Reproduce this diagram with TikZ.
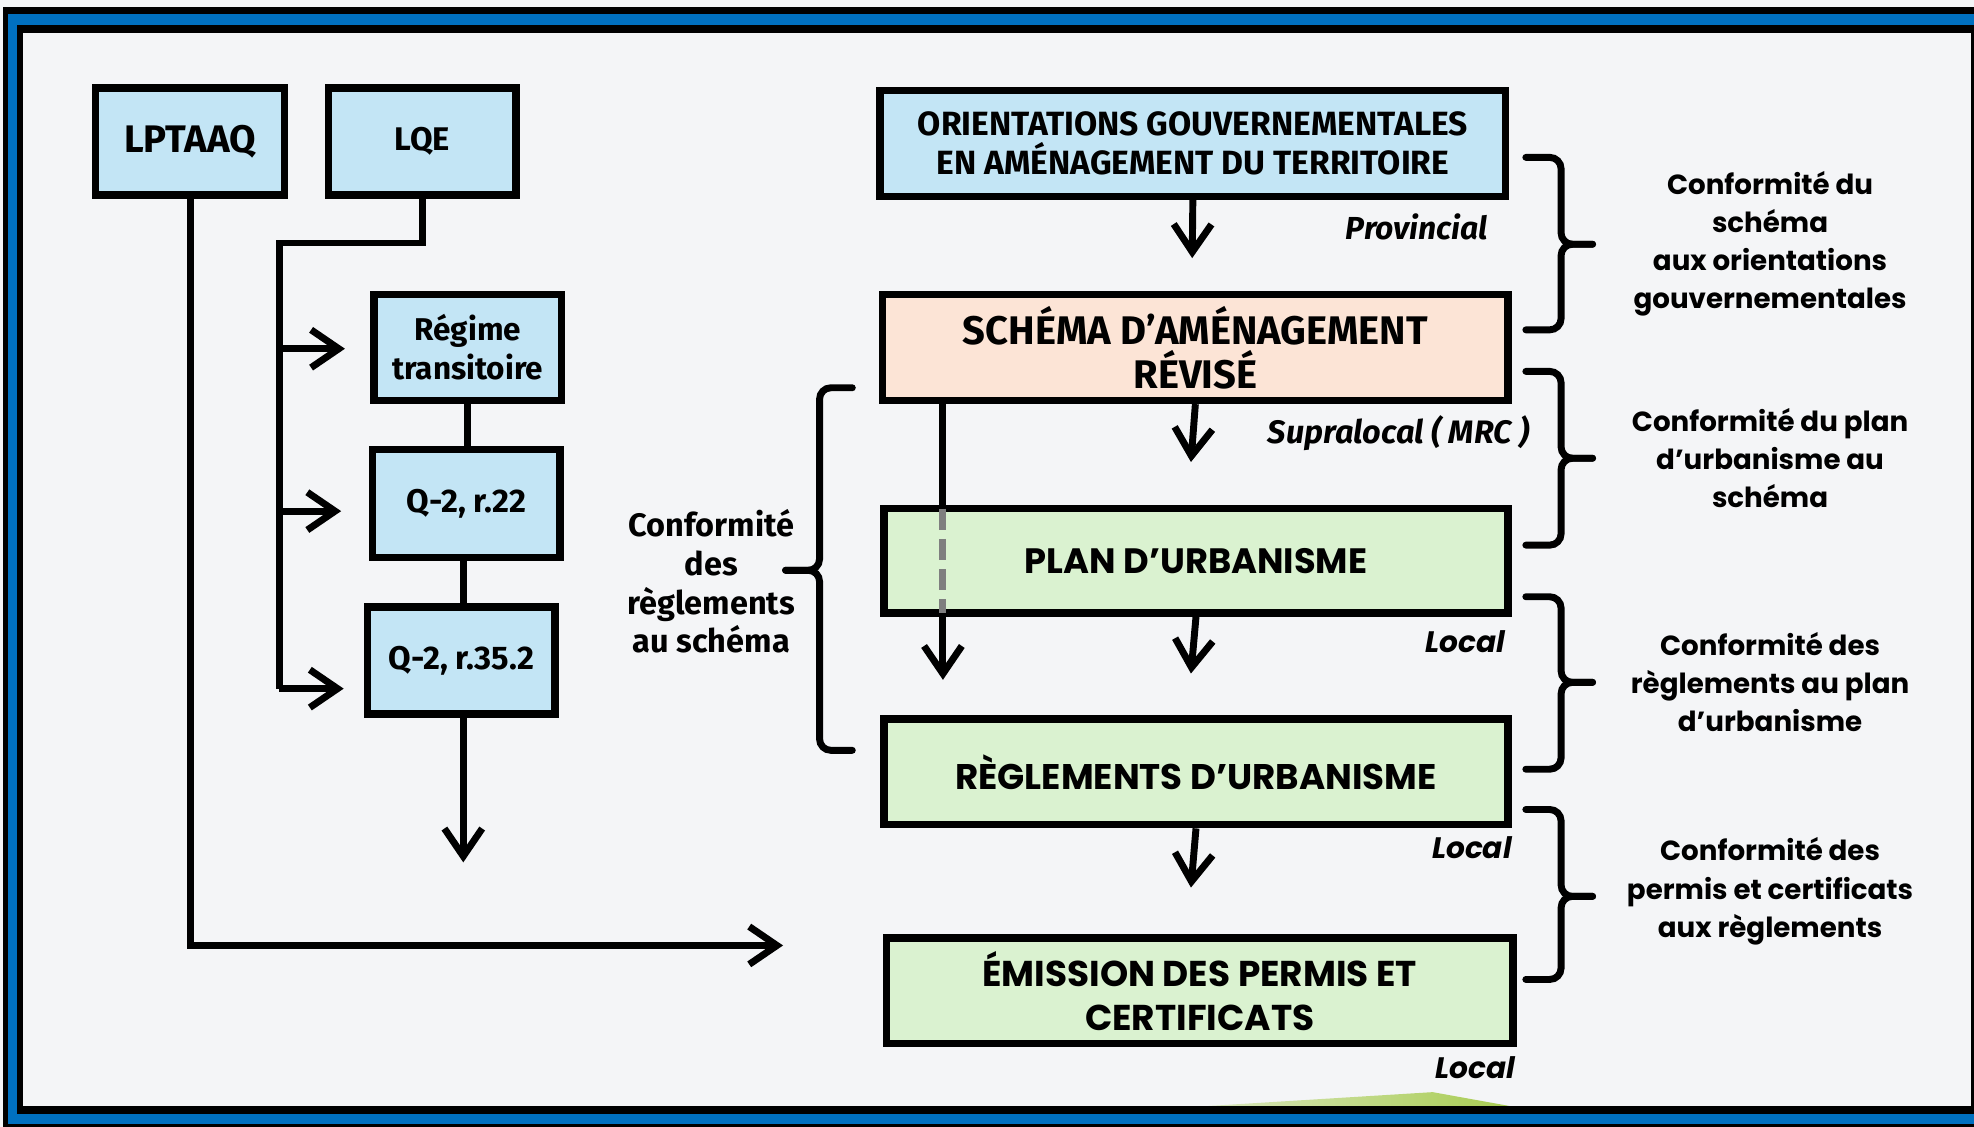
\documentclass[tikz,border=0pt]{standalone}
\usepackage{fontspec}
\usetikzlibrary{arrows.meta}
\newfontfamily\fira{Fira Sans}
\newfontfamily\popp{Poppins}
\definecolor{bgc}{HTML}{F4F5F7}
\definecolor{frblue}{HTML}{0070C0}
\definecolor{lblue}{HTML}{C3E5F5}
\definecolor{peach}{HTML}{FCE4D6}
\definecolor{lgreen}{HTML}{DAF2D0}
\definecolor{hill}{HTML}{A8CC52}
\definecolor{dashgray}{HTML}{7F7F7F}
\begin{document}
\begin{tikzpicture}[x=1pt,y=-1pt,
  box/.style={draw=black,line width=6pt,rectangle,inner sep=0pt,align=center,text=black},
  conn/.style={line width=5.5pt,draw=black,line join=miter},
  arr/.style={conn,-{Straight Barb[length=22pt,width=30pt]}},
  brace/.style={line width=5.5pt,line cap=round,rounded corners=9pt},
  lab/.style={inner sep=0pt,align=center,text=black},
  firab/.style={font=\fira\bfseries\fontsize{#1}{31}\selectfont},
  poppb/.style={font=\popp\bfseries\fontsize{#1}{35}\selectfont}]
\useasboundingbox (0,0) rectangle (1568,895);
\clip (0,0) rectangle (1568,895);
% frame
\fill[bgc] (0,0) rectangle (1568,895);
\fill[black] (2.4,5.6) rectangle (1600,920);
\fill[frblue] (6,11) rectangle (1600,893);
\fill[black] (13.5,20) rectangle (1571,884.5);
\fill[bgc] (18.5,26) rectangle (1565.5,878.5);
\shade[left color=hill!35!bgc,right color=hill] (960,878.5) -- (1138,867.5) -- (1199,878.5) -- cycle;

% coordinates
\coordinate (ltip) at (622,751);
\coordinate (j0) at (222,193);
\coordinate (j1) at (222,277);
\coordinate (j2) at (222,406);
\coordinate (j3) at (222,547);
\coordinate (t1) at (274,277);
\coordinate (t2) at (271,406);
\coordinate (t3) at (273,547);
\coordinate (vx) at (749,0);
\coordinate (vtip) at (749,540);

% left boxes
\node[box,fill=lblue,minimum width=150pt,minimum height=85pt,firab=30.5] (lpt) at (151,112.5) {LPTAAQ};
\node[box,fill=lblue,minimum width=149pt,minimum height=85pt,firab=26] (lqe) at (335.5,112.5) {LQE};
\node[box,fill=lblue,minimum width=149pt,minimum height=84pt,firab=25] (reg) at (371.5,276) {Régime\\transitoire};
\node[box,fill=lblue,minimum width=149pt,minimum height=86pt,firab=26] (q22) at (370.5,400) {Q-2, r.22};
\node[box,fill=lblue,minimum width=149pt,minimum height=85pt,firab=26] (q35) at (366.5,524.5) {Q-2, r.35.2};
\coordinate (q35tip) at (368,685);

% right boxes
\node[box,fill=lblue,minimum width=497pt,minimum height=84pt,firab=26.7] (ori) at (947.5,114) {ORIENTATIONS GOUVERNEMENTALES\\EN AMÉNAGEMENT DU TERRITOIRE};
\node[box,fill=peach,minimum width=497pt,minimum height=84pt,font=\fira\bfseries\fontsize{31.7}{35}\selectfont] (sch) at (949.5,276) {SCHÉMA D’AMÉNAGEMENT\\RÉVISÉ};
\node[box,fill=lgreen,minimum width=496pt,minimum height=83pt,poppb=28] (plan) at (950,445.5) {PLAN D’URBANISME};
\node[box,fill=lgreen,minimum width=496pt,minimum height=84pt,poppb=28.3] (regl) at (950,613) {RÈGLEMENTS D’URBANISME};
\node[box,fill=lgreen,minimum width=498pt,minimum height=84pt,poppb=28.5] (emi) at (953,787) {ÉMISSION DES PERMIS ET\\CERTIFICATS};
\coordinate (a1) at (947,205);
\coordinate (a2) at (946,367);
\coordinate (a3) at (946,535);
\coordinate (a4) at (946,705);

% connectors left
\draw[arr] (lpt.south) |- (ltip);
\draw[conn] (lqe.south) |- (j0) -- (j3);
\draw[arr] (j1) -- (t1);
\draw[arr] (j2) -- (t2);
\draw[arr] (j3) -- (t3);
\draw[conn] (reg.south) -- (reg.south |- q22.north);
\draw[conn] (q22.south -| q35tip) -- (q35.north -| q35tip);
\draw[arr] (q35.south -| q35tip) -- (q35tip);

% connectors right
\draw[arr] (ori.south) -- (a1);
\draw[arr] (sch.south) -- (a2);
\draw[arr] (plan.south) -- (a3);
\draw[arr] (regl.south) -- (a4);
\draw[conn] (sch.south -| vx) -- (plan.north -| vx);
\draw[line width=5.5pt,draw=dashgray,dash pattern=on 17pt off 7pt] ([yshift=-3pt]plan.north -| vx) -- ([yshift=3pt]plan.south -| vx);
\draw[arr] (plan.south -| vx) -- (vtip);

% level labels
\node[lab,anchor=east,font=\fira\bfseries\itshape\fontsize{25.3}{28}\selectfont] (lprov) at (1182,180) {Provincial};
\node[lab,anchor=east,font=\fira\bfseries\itshape\fontsize{25.8}{28}\selectfont] (lsupra) at (1215,344) {Supralocal ( MRC )};
\node[lab,anchor=east,font=\popp\bfseries\itshape\fontsize{23.5}{28}\selectfont] (lloc1) at (1196,510) {Local};
\node[lab,anchor=east,font=\popp\bfseries\itshape\fontsize{23.5}{28}\selectfont] (lloc2) at (1201,673) {Local};
\node[lab,anchor=east,font=\popp\bfseries\itshape\fontsize{23.5}{28}\selectfont] (lloc3) at (1204,848) {Local};

% braces right
\draw[brace] (1212,125) -- (1240,125) -- (1240,194) -- (1265,194);
\draw[brace] (1212,262) -- (1240,262) -- (1240,194) -- (1265,194);
\draw[brace] (1212,295) -- (1240,295) -- (1240,364) -- (1265,364);
\draw[brace] (1212,433) -- (1240,433) -- (1240,364) -- (1265,364);
\draw[brace] (1212,474) -- (1240,474) -- (1240,542) -- (1265,542);
\draw[brace] (1212,611) -- (1240,611) -- (1240,542) -- (1265,542);
\draw[brace] (1212,643) -- (1240,643) -- (1240,712) -- (1265,712);
\draw[brace] (1212,778) -- (1240,778) -- (1240,712) -- (1265,712);
% brace left
\draw[brace] (677,308) -- (651,308) -- (651,453) -- (624,453);
\draw[brace] (677,596) -- (651,596) -- (651,453) -- (624,453);

% compliance labels
\node[lab,font=\popp\bfseries\fontsize{22}{30.3}\selectfont] (c1) at (1406,193.5) {Conformité du\\schéma\\aux orientations\\gouvernementales};
\node[lab,font=\popp\bfseries\fontsize{22}{30.3}\selectfont] (c2) at (1406,364) {Conformité du plan\\d’urbanisme au\\schéma};
\node[lab,font=\popp\bfseries\fontsize{22}{30.3}\selectfont] (c3) at (1406,541.5) {Conformité des\\règlements au plan\\d’urbanisme};
\node[lab,font=\popp\bfseries\fontsize{22}{30.3}\selectfont] (c4) at (1406,708) {Conformité des\\permis et certificats\\aux règlements};
\node[lab,font=\fira\bfseries\fontsize{25.8}{30.7}\selectfont] (c5) at (565,462) {Conformité\\des\\règlements\\au schéma};
\end{tikzpicture}
\end{document}
